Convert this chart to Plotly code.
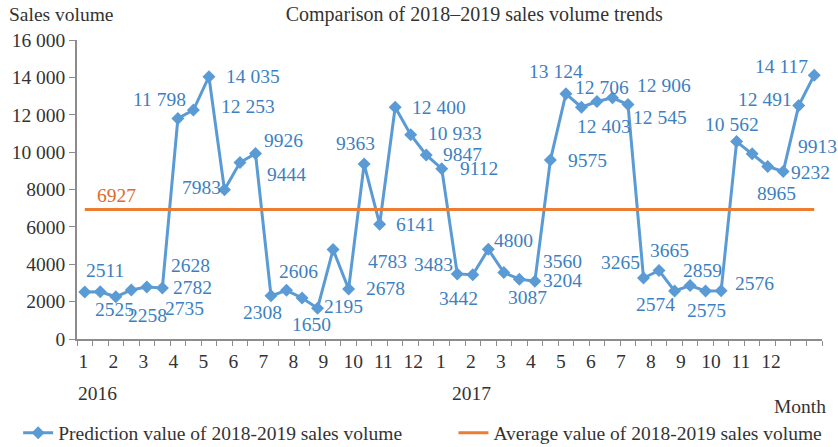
import plotly.graph_objects as go

# ---------------- data ----------------
MONTH_LABELS = ["1", "2", "3", "4", "5", "6", "7", "8", "9", "10", "11", "12"]
YEAR_LABELS = ["2016", "2017"]
PREDICTION = [2511, 2525, 2258, 2628, 2782, 2735, 11798, 12253, 14035, 7983, 9444, 9926,
              2308, 2606, 2195, 1650, 4783, 2678, 9363, 6141, 12400, 10933, 9847, 9112,
              3483, 3442, 4800, 3560, 3204, 3087, 9575, 13124, 12403, 12706, 12906, 12545,
              3265, 3665, 2574, 2859, 2575, 2576, 10562, 9913, 9232, 8965, 12491, 14117]
AVERAGE = 6927
Y_TICKS = [0, 2000, 4000, 6000, 8000, 10000, 12000, 14000, 16000]
TITLE = "Comparison of 2018\u20132019 sales volume trends"
SERIES_NAMES = ["Prediction value of 2018-2019 sales volume",
                "Average value of 2018-2019 sales volume"]

# ---------------- styles ----------------
# pixel offsets of each data label from its point (right, down)
LABEL_DX = [20, 14, 32, 59, 46, 22, -18, 55, 44, -23, 47, 28,
            -9, 12, 41, -6, 54, 37, -9, 36, 44, 44, 36, 37,
            -24, -14, 25, 59, 43, -7, 37, -10, 23, 5, 52, 32,
            -23, 10, -19, 12, 1, 33, -5, 65, 43, -7, -34, -33]
LABEL_DY = [-22, 18, 19, -24, 0, 21, -19, -4, 0, -2, 12, -13,
            17, -19, 9, 16, 12, 0, -21, 0, 0, -1, 0, 0,
            -9, 24, -9, -11, 1, 16, 0, -22, 19, -14, -12, 13,
            -15, -20, 14, -15, 20, -7, -17, -7, 6, 22, -6, -9]

FONT = "Liberation Serif"
BLUE = "#5B9BD5"
BLUE_TXT = "#3D7FC1"
ORANGE = "#ED7D31"
ORANGE_TXT = "#DE6A2A"
TXT = "#333333"
AXIS = "#8C8C8C"
FS = 19.5


def fmt(v):
    return f"{v:,}".replace(",", " ") if v >= 10000 else str(v)


n = len(PREDICTION)
xs = list(range(n))

fig = go.Figure()
fig.add_trace(go.Scatter(
    x=xs, y=PREDICTION, mode="lines+markers", name=SERIES_NAMES[0],
    line=dict(color=BLUE, width=3),
    marker=dict(symbol="diamond", size=10, color=BLUE),
    legend="legend",
))
fig.add_trace(go.Scatter(
    x=xs, y=[AVERAGE] * n, mode="lines", name=SERIES_NAMES[1],
    line=dict(color=ORANGE, width=3),
    legend="legend2",
))

annotations = []
for i, v in enumerate(PREDICTION):
    annotations.append(dict(
        x=i, y=v, xref="x", yref="y", text=fmt(v), showarrow=False,
        xshift=LABEL_DX[i], yshift=-LABEL_DY[i],
        font=dict(family=FONT, size=FS, color=BLUE_TXT),
    ))
annotations.append(dict(
    x=2, y=AVERAGE, xref="x", yref="y", text=fmt(AVERAGE), showarrow=False,
    xshift=1, yshift=14, font=dict(family=FONT, size=FS, color=ORANGE_TXT),
))

# month tick labels (two years)
step = 1.933
tickvals, ticktext = [], []
for yi, start in enumerate([-0.094, 22.95]):
    for j, m in enumerate(MONTH_LABELS):
        tickvals.append(start + step * j)
        ticktext.append(m)

for yi, xc in enumerate([0.82, 24.9]):
    annotations.append(dict(
        x=xc, y=0, xref="x", yref="paper", yanchor="middle", yshift=-54,
        text=YEAR_LABELS[yi],
        showarrow=False, font=dict(family=FONT, size=FS, color=TXT),
    ))

annotations.append(dict(
    x=1.008, y=-0.225, xref="paper", yref="paper", xanchor="right", yanchor="middle",
    text="Month", showarrow=False, font=dict(family=FONT, size=FS, color=TXT),
))
annotations.append(dict(
    x=-0.094, y=1.086, xref="paper", yref="paper", xanchor="left", yanchor="middle",
    text="Sales volume", showarrow=False, font=dict(family=FONT, size=FS, color=TXT),
))

legend_common = dict(orientation="h", xanchor="left", y=-0.315, yanchor="middle",
                     font=dict(family=FONT, size=FS, color=TXT),
                     itemwidth=30, bgcolor="rgba(0,0,0,0)")

fig.update_layout(
    width=838, height=447,
    margin=dict(l=77, r=16, t=40, b=108, autoexpand=False),
    paper_bgcolor="white", plot_bgcolor="white",
    font=dict(family=FONT, size=FS, color=TXT),
    title=dict(text=TITLE, x=0.566, xanchor="center", y=0.969, yanchor="middle",
               font=dict(family=FONT, size=20, color=TXT)),
    annotations=annotations,
    showlegend=True,
    legend=dict(x=-0.079, **legend_common),
    legend2=dict(x=0.5053, **legend_common),
    xaxis=dict(
        range=[-0.5, n - 0.5], showgrid=False, zeroline=False,
        showline=True, linecolor=AXIS, linewidth=1.5,
        tickmode="array", tickvals=tickvals, ticktext=ticktext, ticks="",
        ticklabelstandoff=4,
        tickfont=dict(family=FONT, size=FS, color=TXT),
        minor=dict(tickmode="linear", tick0=-0.5, dtick=1, ticks="outside",
                   ticklen=5, tickwidth=1, tickcolor=AXIS, showgrid=False),
    ),
    yaxis=dict(
        range=[0, 16000], showgrid=False, zeroline=False,
        showline=True, linecolor=AXIS, linewidth=1.5,
        tickmode="array", tickvals=Y_TICKS, ticktext=[fmt(t) for t in Y_TICKS],
        ticks="outside", ticklen=6, tickcolor=AXIS, tickwidth=1,
        tickfont=dict(family=FONT, size=FS, color=TXT),
    ),
)

fig.write_html("out.html", config={"displayModeBar": False},
               post_script="document.body.style.margin='0';")
